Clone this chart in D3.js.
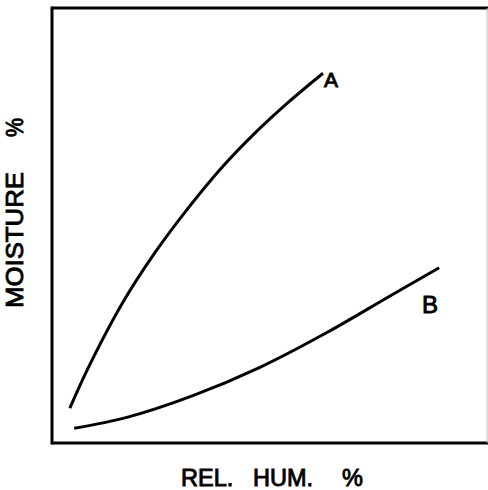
<!DOCTYPE html>
<html>
<head>
<meta charset="utf-8">
<script src="https://cdn.jsdelivr.net/npm/d3@7/dist/d3.min.js"></script>
<style>
  html, body { margin: 0; padding: 0; background: #fff; }
  svg { display: block; }
  text { font-family: "Liberation Sans", Arial, Helvetica, sans-serif; fill: #000; }
</style>
</head>
<body>
<svg id="chart" width="488" height="490"></svg>
<script>
// Relative humidity (%) and moisture (%) (no numeric axes shown)
const curveARH    = [4.1, 8.3, 16.1, 23.7, 31.3, 39.1, 46.7, 54.3, 62.3];
const curveAMoist = [8.0, 17.2, 32.0, 43.8, 54.0, 63.4, 71.3, 78.3, 85.0];
const curveBRH    = [5.1, 17.2, 32.4, 47.8, 63.2, 78.4, 89.0];
const curveBMoist = [3.4, 5.9, 10.9, 17.4, 25.4, 34.2, 40.3];
const seriesLabels = ["A", "B"];
const xTitleParts = ["REL.", "HUM.", "%"];
const yTitleParts = ["MOISTURE", "%"];

const svg = d3.select("#chart");
const x = d3.scaleLinear().domain([0, 100]).range([52, 487]);
const y = d3.scaleLinear().domain([0, 100]).range([443, 8]);

// frame
const frame = svg.append("g");
frame.append("line").attr("x1", x(0)).attr("x2", 488).attr("y1", y(100)).attr("y2", y(100))
  .attr("stroke", "#000").attr("stroke-width", 3);
frame.append("line").attr("x1", x(0)).attr("x2", 488).attr("y1", y(0)).attr("y2", y(0))
  .attr("stroke", "#000").attr("stroke-width", 3);
frame.append("line").attr("x1", x(0)).attr("x2", x(0)).attr("y1", y(100) - 1.5).attr("y2", y(0) + 1.5)
  .attr("stroke", "#000").attr("stroke-width", 3);
frame.append("line").attr("x1", x(100)).attr("x2", x(100)).attr("y1", y(100)).attr("y2", y(0))
  .attr("stroke", "#bbb").attr("stroke-width", 1);

const line = d3.line().x(d => x(d[0])).y(d => y(d[1])).curve(d3.curveCatmullRom.alpha(0.5));
const series = [
  { name: seriesLabels[0], pts: curveARH.map((v, i) => [v, curveAMoist[i]]) },
  { name: seriesLabels[1], pts: curveBRH.map((v, i) => [v, curveBMoist[i]]) }
];
svg.selectAll("path.curve").data(series).enter().append("path")
  .attr("class", "curve")
  .attr("d", d => line(d.pts))
  .attr("fill", "none").attr("stroke", "#000").attr("stroke-width", 3)
  .attr("stroke-linecap", "butt");

// curve labels
svg.append("text").attr("x", 324).attr("y", 87).attr("font-size", 21)
  .attr("stroke", "#000").attr("stroke-width", 0.9)
  .text(seriesLabels[0]);
svg.append("text").attr("x", 422).attr("y", 313).attr("font-size", 24)
  .attr("stroke", "#000").attr("stroke-width", 0.9)
  .text(seriesLabels[1]);

// x title
const xt = [181, 253, 342];
xTitleParts.forEach((t, i) => {
  svg.append("text").attr("x", xt[i]).attr("y", 486).attr("font-size", 23.5)
    .attr("stroke", "#000").attr("stroke-width", 0.9)
    .text(t);
});
// y title (rotated)
const yt = [[308, 136], [137, 19]];
yTitleParts.forEach((t, i) => {
  svg.append("text").attr("transform", `translate(23,${yt[i][0]}) rotate(-90)`)
    .attr("font-size", 24)
    .attr("textLength", yt[i][1]).attr("lengthAdjust", "spacingAndGlyphs")
    .attr("stroke", "#000").attr("stroke-width", 0.9)
    .text(t);
});
</script>
</body>
</html>
